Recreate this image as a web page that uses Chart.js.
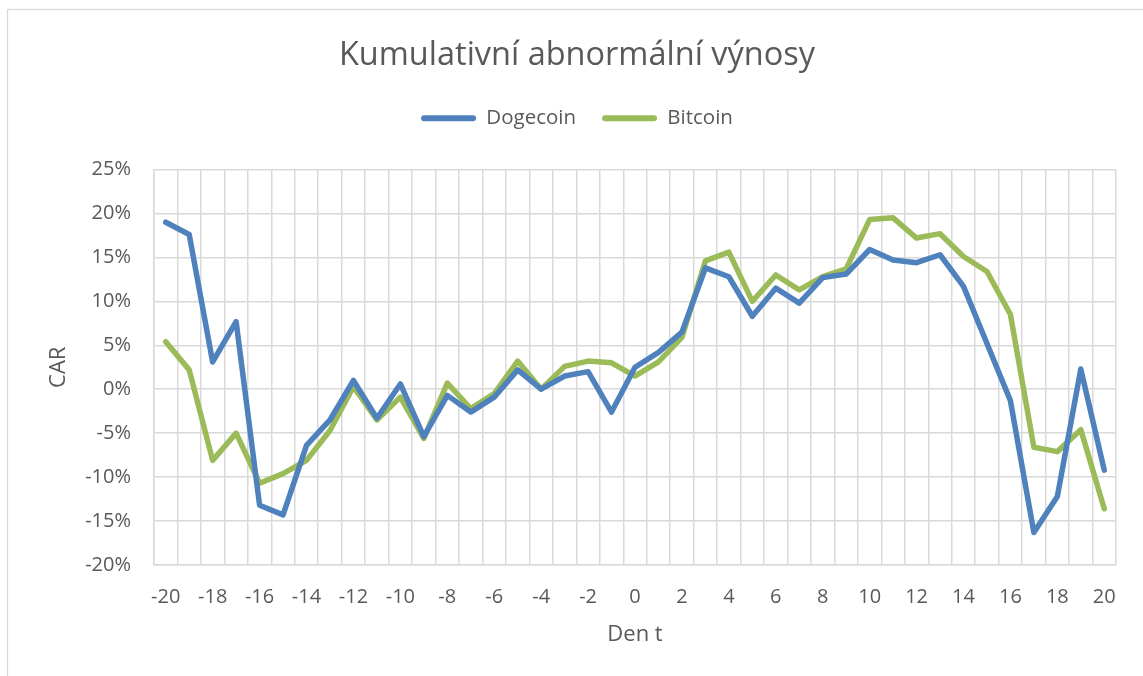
<!DOCTYPE html>
<html>
<head>
<meta charset="utf-8">
<script src="https://cdn.jsdelivr.net/npm/chart.js@4.4.1/dist/chart.umd.min.js"></script>
<style>
  html, body { margin: 0; padding: 0; background: #ffffff; overflow: hidden; }
  #wrap { position: relative; width: 1155px; height: 676px; }
</style>
</head>
<body>
<div id="wrap"><canvas id="c"></canvas></div>
<script>
// ---- data (CAR in %) ----
const days = ['-20','-19','-18','-17','-16','-15','-14','-13','-12','-11','-10','-9','-8','-7','-6','-5','-4','-3','-2','-1','0','1','2','3','4','5','6','7','8','9','10','11','12','13','14','15','16','17','18','19','20'];
const tickLabels = ['-20','-18','-16','-14','-12','-10','-8','-6','-4','-2','0','2','4','6','8','10','12','14','16','18','20'];
const dogecoin = [19.0, 17.6, 3.1, 7.7, -13.2, -14.3, -6.4, -3.5, 1.0, -3.3, 0.6, -5.4, -0.7, -2.6, -0.9, 2.2, 0.0, 1.5, 2.0, -2.6, 2.5, 4.2, 6.5, 13.8, 12.8, 8.3, 11.5, 9.8, 12.7, 13.1, 15.9, 14.7, 14.4, 15.3, 11.7, 5.2, -1.3, -16.3, -12.2, 2.3, -9.2];
const bitcoin = [5.4, 2.2, -8.1, -5.0, -10.7, -9.6, -8.1, -4.7, 0.3, -3.5, -0.9, -5.6, 0.7, -2.2, -0.5, 3.2, 0.0, 2.6, 3.2, 3.0, 1.5, 3.1, 5.9, 14.6, 15.6, 10.0, 13.0, 11.3, 12.8, 13.7, 19.3, 19.5, 17.2, 17.7, 15.1, 13.4, 8.5, -6.6, -7.1, -4.6, -13.6];
const yTicks = [-20, -15, -10, -5, 0, 5, 10, 15, 20, 25];

const TEXT = '#595959';
const GRID = '#d9d9d9';
const FONT = "'Open Sans', 'Noto Sans', sans-serif";

const frame = {
  id: 'frame',
  beforeDraw(chart) {
    const ctx = chart.ctx;
    ctx.save();
    ctx.fillStyle = '#ffffff';
    ctx.fillRect(0, 0, chart.width, chart.height);
    ctx.strokeStyle = GRID;
    ctx.lineWidth = 1.3;
    ctx.strokeRect(7.5, 9.5, chart.width + 20, chart.height + 20);
    ctx.restore();
  }
};
const legendSpace = {
  id: 'legendSpace',
  afterInit(chart) {
    const lg = chart.legend;
    if (lg && !lg._patched) {
      const orig = lg.fit;
      lg.fit = function () { orig.call(this); this.height += 31; };
      lg._patched = true;
    }
  }
};

new Chart(document.getElementById('c'), {
  type: 'line',
  data: {
    labels: days,
    datasets: [
      { label: 'Dogecoin', data: dogecoin, borderColor: '#4f81bd', backgroundColor: '#4f81bd',
        borderWidth: 5.5, pointRadius: 0, tension: 0, borderJoinStyle: 'round', borderCapStyle: 'round' },
      { label: 'Bitcoin', data: bitcoin, borderColor: '#9bbb59', backgroundColor: '#9bbb59',
        borderWidth: 5.5, pointRadius: 0, tension: 0, borderJoinStyle: 'round', borderCapStyle: 'round' }
    ]
  },
  options: {
    responsive: true,
    maintainAspectRatio: false,
    animation: false,
    devicePixelRatio: 1,
    layout: { padding: { left: 38, right: 39, top: 0, bottom: 0 } },
    plugins: {
      title: {
        display: true,
        text: 'Kumulativní abnormální výnosy',
        color: TEXT,
        font: { family: FONT, size: 32.5, weight: 'normal' },
        padding: { top: 36, bottom: 7 }
      },
      legend: {
        display: true,
        position: 'top',
        labels: {
          color: TEXT,
          font: { family: FONT, size: 20.5 },
          boxWidth: 55,
          boxHeight: 6,
          useBorderRadius: true,
          borderRadius: 3,
          padding: 26,
          generateLabels(chart) {
            return Chart.defaults.plugins.legend.labels.generateLabels(chart).map(l => Object.assign(l, { lineWidth: 0 }));
          }
        }
      },
      tooltip: { enabled: false }
    },
    scales: {
      x: {
        type: 'category',
        offset: true,
        grid: { display: true, offset: true, color: GRID, lineWidth: 1.5, drawTicks: false },
        border: { display: true, color: GRID, width: 1.5 },
        ticks: {
          color: TEXT, font: { family: FONT, size: 20 }, padding: 20,
          autoSkip: false, maxRotation: 0, minRotation: 0,
          callback(v, i) { const l = days[i]; return tickLabels.includes(l) ? l : ''; }
        },
        title: { display: true, text: 'Den t', color: TEXT, font: { family: FONT, size: 22 }, padding: { top: 0, bottom: 28 } },
        afterFit(scale) { scale.height = 111; }
      },
      y: {
        min: -20, max: 25,
        grid: { display: true, color: GRID, lineWidth: 1.5, drawTicks: false },
        border: { display: true, color: GRID, width: 1.5 },
        afterBuildTicks(scale) { scale.ticks = yTicks.map(v => ({ value: v })); },
        ticks: {
          color: TEXT, font: { family: FONT, size: 20 }, padding: 23,
          callback(v) { return v + '%'; }
        },
        title: { display: true, text: 'CAR', color: TEXT, font: { family: FONT, size: 22 }, padding: { top: 8, bottom: 0 } },
        afterFit(scale) { scale.width = 116; }
      }
    }
  },
  plugins: [frame, legendSpace]
});
</script>
</body>
</html>
